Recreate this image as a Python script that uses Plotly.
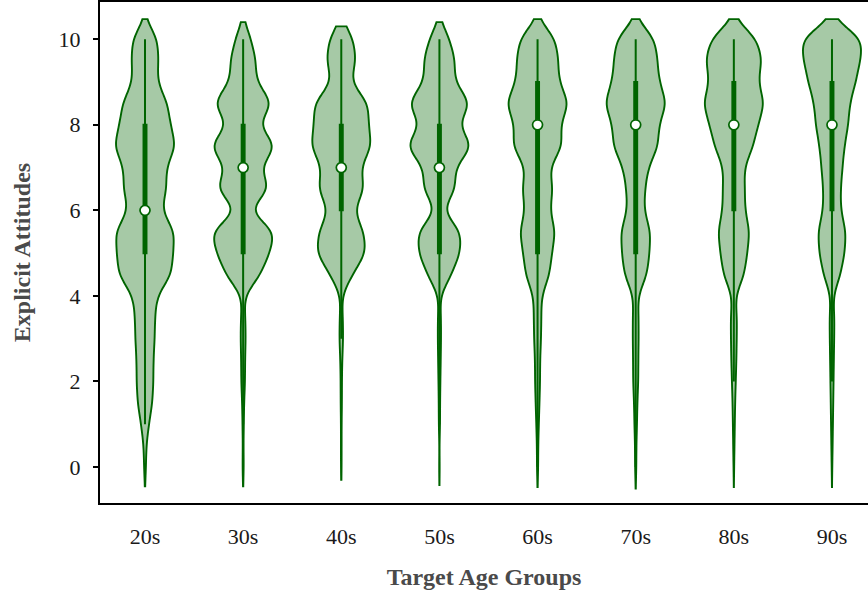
import numpy as np
import plotly.graph_objects as go

# ---- data ----
CATEGORIES = ["20s", "30s", "40s", "50s", "60s", "70s", "80s", "90s"]

# response values (0 to 10 in half steps)
VALUES = [0, 0.5, 1, 1.5, 2, 2.5, 3, 3.5, 4, 4.5, 5, 5.5, 6, 6.5, 7, 7.5, 8, 8.5, 9, 9.5, 10]

# estimated counts per value, one list per age group
COUNTS_20S = [3, 4, 12, 23, 26, 26, 30, 31, 36, 84, 86, 94, 49, 68, 64, 98, 78, 71, 37, 42, 40]
COUNTS_30S = [2, 1, 2, 3, 6, 6, 8, 7, 2, 56, 82, 105, 11, 90, 49, 111, 42, 99, 39, 41, 25]
COUNTS_40S = [1, 1, 1, 2, 2, 3, 6, 5, 1, 35, 80, 72, 38, 76, 59, 99, 85, 89, 27, 48, 39]
COUNTS_50S = [1, 0, 2, 2, 3, 4, 5, 5, 1, 38, 65, 70, 6, 54, 45, 110, 54, 103, 45, 50, 32]
COUNTS_60S = [2, 2, 4, 6, 8, 8, 11, 12, 12, 39, 45, 58, 38, 50, 36, 82, 70, 103, 67, 66, 59]
COUNTS_70S = [2, 2, 4, 5, 8, 8, 9, 9, 6, 36, 42, 47, 25, 29, 38, 71, 70, 98, 72, 67, 61]
COUNTS_80S = [1, 2, 3, 4, 6, 8, 9, 10, 4, 34, 42, 51, 35, 35, 32, 62, 76, 99, 75, 90, 75]
COUNTS_90S = [1, 2, 3, 4, 5, 6, 7, 8, 3, 28, 41, 46, 28, 28, 34, 40, 53, 57, 77, 91, 103]

# box statistics
Q1 = [5, 5, 6, 5, 5, 5, 6, 6]
MEDIAN = [6, 7, 7, 7, 8, 8, 8, 8]
Q3 = [8, 8, 8, 8, 9, 9, 9, 9]
LOWER_WHISKER = [1, 1, 3, 1, 0, 0, 2, 2]
UPPER_WHISKER = [10, 10, 10, 10, 10, 10, 10, 10]

# extent of each violin (top / bottom of the drawn density)
SPAN_LOW = [-0.45, -0.45, -0.3, -0.42, -0.47, -0.5, -0.47, -0.47]
SPAN_HIGH = [10.47, 10.4, 10.3, 10.4, 10.47, 10.47, 10.47, 10.47]

ALL_COUNTS = [COUNTS_20S, COUNTS_30S, COUNTS_40S, COUNTS_50S,
              COUNTS_60S, COUNTS_70S, COUNTS_80S, COUNTS_90S]

DARK = "#006400"
FILL = "rgba(0,100,0,0.35)"
FONT = "Liberation Serif"

fig = go.Figure()

for cat, counts, lo, hi in zip(CATEGORIES, ALL_COUNTS, SPAN_LOW, SPAN_HIGH):
    samples = np.repeat(np.array(VALUES, dtype=float), counts)
    fig.add_trace(go.Violin(
        x=[cat] * len(samples),
        y=samples,
        name=cat,
        bandwidth=0.3,
        spanmode="manual",
        span=[lo, hi],
        scalemode="width",
        width=0.59,
        fillcolor=FILL,
        line=dict(color=DARK, width=1.9),
        points=False,
        box_visible=False,
        meanline_visible=False,
        hoverinfo="skip",
        showlegend=False,
    ))

fig.add_trace(go.Box(
    x=CATEGORIES,
    q1=Q1,
    median=MEDIAN,
    q3=Q3,
    lowerfence=LOWER_WHISKER,
    upperfence=UPPER_WHISKER,
    width=0.03,
    whiskerwidth=0,
    fillcolor=DARK,
    line=dict(color=DARK, width=2),
    boxpoints=False,
    hoverinfo="skip",
    showlegend=False,
))

fig.add_trace(go.Scatter(
    x=CATEGORIES,
    y=MEDIAN,
    mode="markers",
    marker=dict(color="white", size=10, line=dict(color=DARK, width=1.7)),
    hoverinfo="skip",
    showlegend=False,
))

fig.update_layout(
    width=868,
    height=594,
    margin=dict(l=100, r=0, t=2, b=91),
    plot_bgcolor="white",
    paper_bgcolor="white",
    violinmode="overlay",
    boxmode="overlay",
    showlegend=False,
    font=dict(family=FONT, color="#1a1a1a"),
)

fig.update_xaxes(
    type="category",
    categoryorder="array",
    categoryarray=CATEGORIES,
    range=[-0.4585, 7.367],
    showline=True,
    linecolor="black",
    linewidth=2,
    mirror=True,
    ticks="",
    showgrid=False,
    zeroline=False,
    tickfont=dict(family=FONT, size=22, color="#1a1a1a"),
    ticklabelstandoff=13,
    title=dict(text="<b>Target Age Groups</b>",
               font=dict(family=FONT, size=24, color="#4a4a4a"),
               standoff=20),
)

fig.update_yaxes(
    range=[-0.84, 10.87],
    tickvals=[0, 2, 4, 6, 8, 10],
    ticks="outside",
    ticklen=5,
    tickwidth=1.5,
    tickcolor="black",
    showline=True,
    linecolor="black",
    linewidth=2,
    mirror=False,
    showgrid=False,
    zeroline=False,
    tickfont=dict(family=FONT, size=22, color="#1a1a1a"),
    ticklabelstandoff=8,
    title=dict(text="<b>Explicit Attitudes</b>",
               font=dict(family=FONT, size=24, color="#4a4a4a"),
               standoff=21),
)

fig.write_html("out.html",
               config={"displayModeBar": False},
               post_script="document.body.style.margin='0px';")
